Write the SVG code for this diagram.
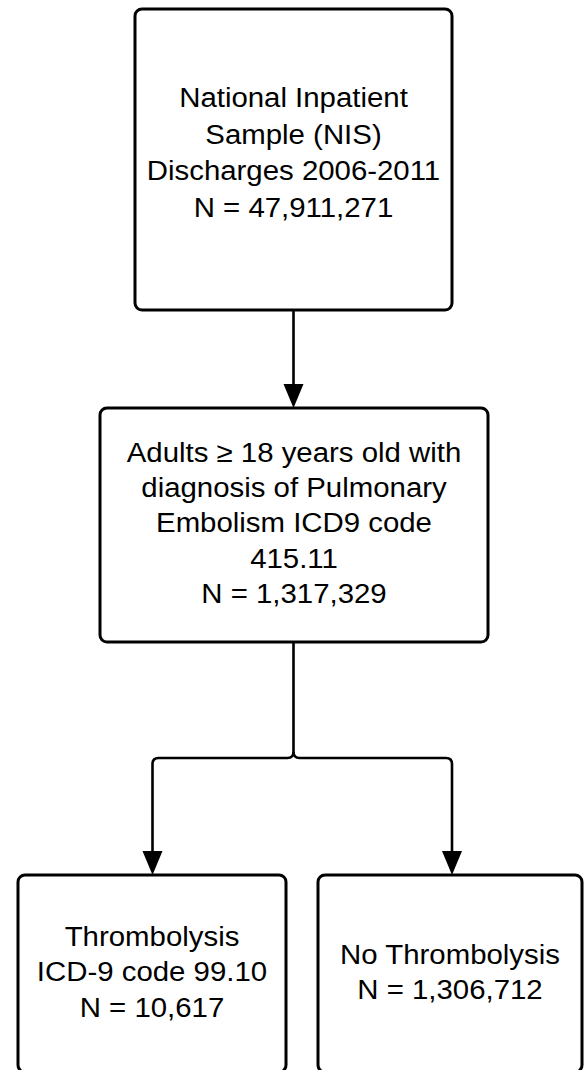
<svg xmlns="http://www.w3.org/2000/svg" width="584" height="1070" viewBox="0 0 584 1070">
<style>
.box{fill:#fff;stroke:#000;stroke-width:3}
.t{font-family:"Liberation Sans",Arial,sans-serif;font-size:28px;fill:#000;text-anchor:middle}
.c{fill:none;stroke:#000;stroke-width:2.6}
.ah{fill:#000;stroke:none}
</style>
<rect width="584" height="1070" fill="#fff"/>
<g id="connectors">
<line class="c" x1="293.5" y1="310" x2="293.5" y2="386"/>
<polygon class="ah" points="283.5,384 303.5,384 293.5,408"/>
<path class="c" d="M293.5,642 V752 Q293.5,758 287.5,758 H158.5 Q152.5,758 152.5,764 V853"/>
<path class="c" d="M293.5,752 Q293.5,758 299.5,758 H446 Q452,758 452,764 V853"/>
<polygon class="ah" points="142.5,851 162.5,851 152.5,875"/>
<polygon class="ah" points="442,851 462,851 452,875"/>
</g>
<g id="n1">
<rect class="box" x="135" y="9" width="317" height="301" rx="7"/>
<g transform="translate(293.5,0) scale(1.05,1)">
<text class="t" x="0" y="107.5">National Inpatient</text>
<text class="t" x="0" y="144">Sample (NIS)</text>
<text class="t" x="0" y="180.5">Discharges 2006-2011</text>
<text class="t" x="0" y="217">N = 47,911,271</text>
</g>
</g>
<g id="n2">
<rect class="box" x="100" y="408" width="388" height="234" rx="7"/>
<g transform="translate(294,0) scale(1.05,1)">
<text class="t" x="0" y="462">Adults ≥ 18 years old with</text>
<text class="t" x="0" y="497">diagnosis of Pulmonary</text>
<text class="t" x="0" y="532">Embolism ICD9 code</text>
<text class="t" x="0" y="568">415.11</text>
<text class="t" x="0" y="603">N = 1,317,329</text>
</g>
</g>
<g id="n3">
<rect class="box" x="18" y="875" width="268" height="197" rx="7"/>
<g transform="translate(152,0) scale(1.05,1)">
<text class="t" x="0" y="946">Thrombolysis</text>
<text class="t" x="0" y="981.5">ICD-9 code 99.10</text>
<text class="t" x="0" y="1017">N = 10,617</text>
</g>
</g>
<g id="n4">
<rect class="box" x="318" y="875" width="264" height="197" rx="7"/>
<g transform="translate(450,0) scale(1.05,1)">
<text class="t" x="0" y="964">No Thrombolysis</text>
<text class="t" x="0" y="999.5">N = 1,306,712</text>
</g>
</g>
</svg>
